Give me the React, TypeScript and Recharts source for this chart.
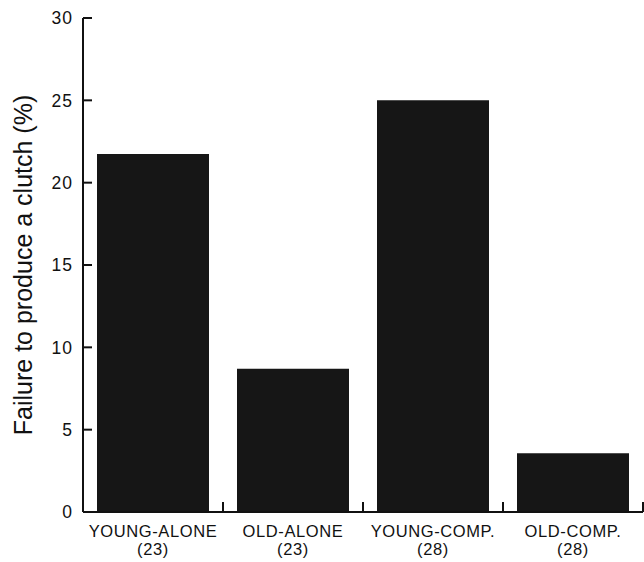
import { BarChart, Bar, XAxis, YAxis } from "recharts";

const groups = ["YOUNG-ALONE", "OLD-ALONE", "YOUNG-COMP.", "OLD-COMP."];
const sampleSizes = [23, 23, 28, 28];
const failurePct = [21.74, 8.7, 25, 3.57];
const yTicks = [0, 5, 10, 15, 20, 25, 30];

const data = groups.map((g, i) => ({ group: g, n: sampleSizes[i], pct: failurePct[i] }));

const INK = "#111";
const FONT = "'Liberation Sans', Arial, Helvetica, sans-serif";

// two-line category label plus a short upward tick on the right edge of the band
const GroupTick = (props: any) => {
  const { x, y, payload, index, width, visibleTicksCount } = props;
  const half =
    width && visibleTicksCount ? width / visibleTicksCount / 2 : payload?.offset || 70;
  return (
    <g>
      <line x1={x + half} x2={x + half} y1={y} y2={y - 10} stroke={INK} strokeWidth={2} />
      <text
        x={x}
        y={y}
        textAnchor="middle"
        fill={INK}
        fontFamily={FONT}
        fontSize={16.5}
        letterSpacing={0.6}
      >
        <tspan x={x} dy={25}>{payload.value}</tspan>
        <tspan x={x} dy={18}>({sampleSizes[index]})</tspan>
      </text>
    </g>
  );
};

const YTitle = ({ viewBox }: any) => {
  const cx = viewBox.x + 23;
  const cy = viewBox.y + viewBox.height / 2;
  return (
    <text
      x={cx}
      y={cy}
      transform={`rotate(-90, ${cx}, ${cy})`}
      textAnchor="middle"
      dominantBaseline="central"
      fill={INK}
      fontFamily={FONT}
      fontSize={25}
    >
      Failure to produce a clutch (%)
    </text>
  );
};

export default function App() {
  return (
    <div style={{ position: "absolute", left: 0, top: 0, background: "#fff" }}>
      <BarChart
        width={644}
        height={562}
        data={data}
        margin={{ top: 18, right: 1, bottom: 0, left: 0 }}
        barCategoryGap="10%"
      >
        <XAxis
          dataKey="group"
          height={50}
          axisLine={{ stroke: INK, strokeWidth: 2 }}
          tickLine={false}
          tickSize={0}
          tickMargin={0}
          tick={<GroupTick />}
          interval={0}
        />
        <YAxis
          width={83}
          domain={[0, 30]}
          ticks={yTicks}
          interval={0}
          axisLine={{ stroke: INK, strokeWidth: 2 }}
          tickLine={{ stroke: INK, strokeWidth: 2 }}
          tickSize={-9}
          tickMargin={19}
          tick={{ fill: INK, fontSize: 17.5, fontFamily: FONT, letterSpacing: 1 }}
          label={{ content: <YTitle /> }}
        />
        <Bar dataKey="pct" fill="#161616" isAnimationActive={false} />
      </BarChart>
    </div>
  );
}
